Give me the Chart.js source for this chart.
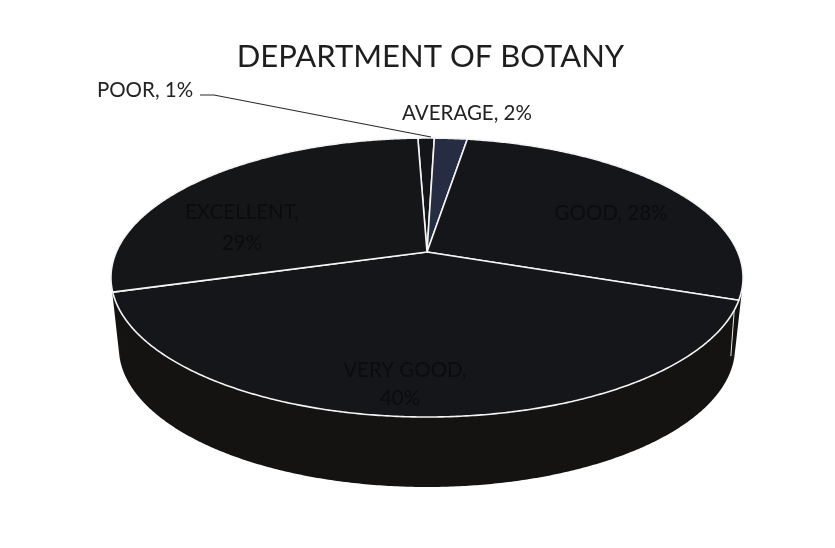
<!DOCTYPE html>
<html>
<head>
<meta charset="utf-8">
<style>html,body{margin:0;padding:0;background:#fff}canvas{display:block}</style>
<script src="https://cdn.jsdelivr.net/npm/chart.js@4"></script>
</head>
<body>
<canvas id="c" width="835" height="548"></canvas>
<script>
const chartTitle = 'DEPARTMENT OF BOTANY';
const categories = ['POOR', 'AVERAGE', 'GOOD', 'VERY GOOD', 'EXCELLENT'];
const percentValues = [1, 2, 28, 40, 29];
const sliceColors = ['#141518', '#262d42', '#14161a', '#15161a', '#151618'];

// perspective of the disc, applied to the angles the library computes
const apexX = 427, apexY = 252, radiusX = 310.7, radiusY = 134.8, tilt = -0.183;
const wallDepth = 70, wallShrink = 0.975, wallAxisX = 425, wallColor = '#141312';

function rim(angle) {
  const x = Math.cos(angle), y = Math.sin(angle), d = 1 + tilt * y;
  return [apexX + radiusX * x / d, apexY + radiusY * y / d];
}
function floorRim(angle) {
  const p = rim(angle);
  return [wallAxisX + (p[0] - wallAxisX) * wallShrink, p[1] + wallDepth];
}
function sweep(a0, a1) {
  const n = Math.max(2, Math.ceil(Math.abs(a1 - a0) / 0.008)), out = [];
  for (let i = 0; i <= n; i++) out.push(a0 + (a1 - a0) * i / n);
  return out;
}

Chart.ArcElement.prototype.draw = function (ctx) {
  const { startAngle, endAngle } = this.getProps(['startAngle', 'endAngle'], true);
  const o = this.options;
  ctx.save();
  ctx.beginPath();
  ctx.moveTo(apexX, apexY);
  sweep(startAngle, endAngle).forEach(a => { const p = rim(a); ctx.lineTo(p[0], p[1]); });
  ctx.closePath();
  ctx.fillStyle = o.backgroundColor;
  ctx.fill();
  ctx.lineWidth = o.borderWidth;
  ctx.strokeStyle = o.borderColor;
  ctx.lineJoin = 'round';
  ctx.stroke();
  ctx.restore();
};

const wallPlugin = {
  id: 'wall',
  beforeDatasetsDraw(chart) {
    const ctx = chart.ctx, arcs = chart.getDatasetMeta(0).data;
    ctx.save();
    ctx.fillStyle = wallColor;
    ctx.beginPath();
    arcs.forEach(el => {
      const s = sweep(el.startAngle, el.endAngle);
      for (let i = 0; i < s.length - 1; i++) {
        let q = [rim(s[i]), rim(s[i + 1]), floorRim(s[i + 1]), floorRim(s[i])];
        let area = 0;
        q.forEach((p, j) => { const n = q[(j + 1) % 4]; area += p[0] * n[1] - n[0] * p[1]; });
        if (area < 0) q = q.reverse();
        ctx.moveTo(q[0][0], q[0][1]);
        ctx.lineTo(q[1][0], q[1][1]);
        ctx.lineTo(q[2][0], q[2][1]);
        ctx.lineTo(q[3][0], q[3][1]);
        ctx.closePath();
      }
    });
    ctx.fill();
    // cut between GOOD and VERY GOOD showing on the wall
    const p = rim(arcs[2].endAngle);
    ctx.strokeStyle = '#e8e8e8';
    ctx.lineWidth = 1;
    ctx.beginPath();
    ctx.moveTo(p[0] - 4, p[1] + 2);
    ctx.lineTo(p[0] - 8, p[1] + 56);
    ctx.stroke();
    ctx.restore();
  },
  afterDatasetsDraw(chart) {
    const ctx = chart.ctx;
    ctx.save();
    // leader line of POOR
    ctx.strokeStyle = '#2a2a2a';
    ctx.lineWidth = 1.2;
    ctx.beginPath();
    ctx.moveTo(200, 95); ctx.lineTo(214, 95); ctx.lineTo(431, 137);
    ctx.stroke();
    ctx.textAlign = 'center';
    ctx.textBaseline = 'middle';
    ctx.font = '20.5px Lato';
    const text = i => categories[i] + ', ' + percentValues[i] + '%';
    ctx.fillStyle = '#232323';
    ctx.fillText(text(0), 145, 90);
    ctx.fillText(text(1), 467, 113);
    ctx.fillStyle = '#0b0c0e';
    ctx.fillText(text(2), 611, 213);
    ctx.fillText(categories[3] + ',', 405, 370);
    ctx.fillText(percentValues[3] + '%', 400, 398);
    ctx.fillText(categories[4] + ',', 242, 212);
    ctx.fillText(percentValues[4] + '%', 242, 243);
    ctx.restore();
  }
};

new Chart(document.getElementById('c'), {
  type: 'pie',
  data: {
    labels: categories,
    datasets: [{
      data: percentValues,
      backgroundColor: sliceColors,
      borderColor: '#f4f4f4',
      borderWidth: 1.6
    }]
  },
  options: {
    responsive: false,
    animation: false,
    rotation: -2,
    layout: { padding: { left: 26 } },
    plugins: {
      legend: { display: false },
      tooltip: { enabled: false },
      title: {
        display: true,
        text: chartTitle,
        color: '#1e1e1e',
        font: { family: 'Lato', size: 31, weight: 'normal' },
        padding: { top: 38, bottom: 10 }
      }
    }
  },
  plugins: [wallPlugin]
});
</script>
</body>
</html>
